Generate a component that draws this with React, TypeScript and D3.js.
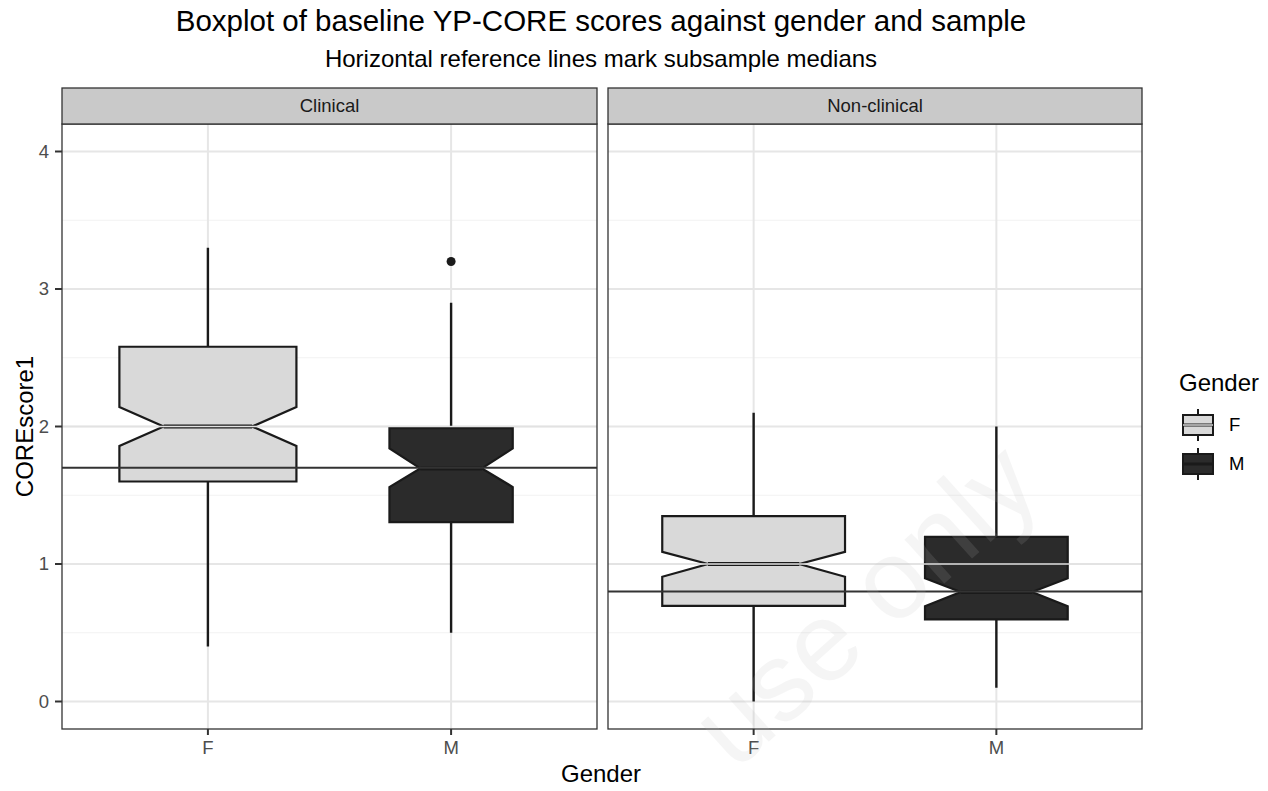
import React, { useEffect, useRef } from "react";
import * as d3 from "d3";

// facets and groups
const samples = ["Clinical", "Non-clinical"];
const genders = ["F", "M"];

// box statistics, one row per sample, columns F, M
const lowerWhisker = [[0.4, 0.5], [0.0, 0.1]];
const q1 = [[1.6, 1.305], [0.695, 0.598]];
const notchLow = [[1.858, 1.56], [0.907, 0.693]];
const medians = [[2.0, 1.695], [1.0, 0.797]];
const notchHigh = [[2.142, 1.84], [1.088, 0.897]];
const q3 = [[2.58, 1.988], [1.348, 1.197]];
const upperWhisker = [[3.3, 2.9], [2.1, 2.0]];
const outliers = [[[], [3.2]], [[], []]];
// relative box widths (varwidth)
const boxWidths = [[0.728, 0.507], [0.753, 0.588]];

// subsample medians (dark reference lines) and female medians (light lines)
const sampleMedians = [1.7, 0.8];
const lightLines = [2.0, 1.0];

const yTicks = [0, 1, 2, 3, 4];
const yMinor = [0.5, 1.5, 2.5, 3.5];

const fills: Record<string, string> = { F: "#d9d9d9", M: "#2b2b2b" };

export default function App() {
  const svgRef = useRef<SVGSVGElement>(null);

  useEffect(() => {
    const svg = d3.select(svgRef.current);
    svg.selectAll("*").remove();
    const W = 1268;
    const H = 791;
    svg.attr("width", W).attr("height", H);
    svg.append("rect").attr("width", W).attr("height", H).attr("fill", "#fff");

    const font = "'Liberation Sans', Arial, sans-serif";
    const panelTop = 124;
    const panelBottom = 729;
    const stripTop = 88;
    const panels = [
      { x0: 62, x1: 597 },
      { x0: 608, x1: 1142 },
    ];

    const y = d3.scaleLinear().domain([-0.2, 4.2]).range([panelBottom, panelTop]);

    panels.forEach((p, i) => {
      const x = d3
        .scalePoint<string>()
        .domain(genders)
        .range([p.x0, p.x1])
        .padding(0.6);
      const step = x.step();
      const g = svg.append("g");

      // grid
      g.selectAll(".minor")
        .data(yMinor)
        .enter()
        .append("line")
        .attr("x1", p.x0)
        .attr("x2", p.x1)
        .attr("y1", (d) => y(d))
        .attr("y2", (d) => y(d))
        .attr("stroke", "#f2f2f2")
        .attr("stroke-width", 1.2);
      g.selectAll(".major")
        .data(yTicks)
        .enter()
        .append("line")
        .attr("x1", p.x0)
        .attr("x2", p.x1)
        .attr("y1", (d) => y(d))
        .attr("y2", (d) => y(d))
        .attr("stroke", "#e6e6e6")
        .attr("stroke-width", 2);
      g.selectAll(".vmajor")
        .data(genders)
        .enter()
        .append("line")
        .attr("x1", (d) => x(d)!)
        .attr("x2", (d) => x(d)!)
        .attr("y1", panelTop)
        .attr("y2", panelBottom)
        .attr("stroke", "#e6e6e6")
        .attr("stroke-width", 2);

      // boxes
      genders.forEach((gd, j) => {
        const cx = x(gd)!;
        const hw = (boxWidths[i][j] * step) / 2;
        const nw = hw / 2;
        // whiskers
        g.append("line")
          .attr("x1", cx)
          .attr("x2", cx)
          .attr("y1", y(q3[i][j]))
          .attr("y2", y(upperWhisker[i][j]))
          .attr("stroke", "#1a1a1a")
          .attr("stroke-width", 2.4);
        g.append("line")
          .attr("x1", cx)
          .attr("x2", cx)
          .attr("y1", y(q1[i][j]))
          .attr("y2", y(lowerWhisker[i][j]))
          .attr("stroke", "#1a1a1a")
          .attr("stroke-width", 2.4);
        const pts: [number, number][] = [
          [cx - hw, y(q3[i][j])],
          [cx + hw, y(q3[i][j])],
          [cx + hw, y(notchHigh[i][j])],
          [cx + nw, y(medians[i][j])],
          [cx + hw, y(notchLow[i][j])],
          [cx + hw, y(q1[i][j])],
          [cx - hw, y(q1[i][j])],
          [cx - hw, y(notchLow[i][j])],
          [cx - nw, y(medians[i][j])],
          [cx - hw, y(notchHigh[i][j])],
        ];
        g.append("path")
          .attr("d", d3.line()(pts)! + "Z")
          .attr("fill", fills[gd])
          .attr("stroke", "#1a1a1a")
          .attr("stroke-width", 2.2)
          .attr("stroke-linejoin", "miter");
        g.append("line")
          .attr("x1", cx - nw)
          .attr("x2", cx + nw)
          .attr("y1", y(medians[i][j]))
          .attr("y2", y(medians[i][j]))
          .attr("stroke", "#1a1a1a")
          .attr("stroke-width", 4);
        g.selectAll(null)
          .data(outliers[i][j])
          .enter()
          .append("circle")
          .attr("cx", cx)
          .attr("cy", (d) => y(d))
          .attr("r", 4.5)
          .attr("fill", "#1a1a1a");
      });

      // light line at female median
      g.append("line")
        .attr("x1", p.x0)
        .attr("x2", p.x1)
        .attr("y1", y(lightLines[i]))
        .attr("y2", y(lightLines[i]))
        .attr("stroke", "#e2e2e2")
        .attr("stroke-width", 1.6);
      // subsample median
      g.append("line")
        .attr("x1", p.x0)
        .attr("x2", p.x1)
        .attr("y1", y(sampleMedians[i]))
        .attr("y2", y(sampleMedians[i]))
        .attr("stroke", "#333")
        .attr("stroke-width", 2);

      // panel border
      g.append("rect")
        .attr("x", p.x0)
        .attr("y", panelTop)
        .attr("width", p.x1 - p.x0)
        .attr("height", panelBottom - panelTop)
        .attr("fill", "none")
        .attr("stroke", "#333")
        .attr("stroke-width", 1.3);
      // strip
      g.append("rect")
        .attr("x", p.x0)
        .attr("y", stripTop)
        .attr("width", p.x1 - p.x0)
        .attr("height", panelTop - stripTop)
        .attr("fill", "#c9c9c9")
        .attr("stroke", "#333")
        .attr("stroke-width", 1.3);
      g.append("text")
        .attr("x", (p.x0 + p.x1) / 2)
        .attr("y", (stripTop + panelTop) / 2)
        .attr("dy", "0.35em")
        .attr("text-anchor", "middle")
        .attr("font-family", font)
        .attr("font-size", 18.5)
        .attr("fill", "#1a1a1a")
        .text(samples[i]);

      // x axis
      const xa = g.append("g").attr("transform", `translate(0,${panelBottom})`);
      genders.forEach((gd) => {
        xa.append("line")
          .attr("x1", x(gd)!)
          .attr("x2", x(gd)!)
          .attr("y1", 0)
          .attr("y2", 6)
          .attr("stroke", "#333")
          .attr("stroke-width", 2);
        xa.append("text")
          .attr("x", x(gd)!)
          .attr("y", 25)
          .attr("text-anchor", "middle")
          .attr("font-family", font)
          .attr("font-size", 18.5)
          .attr("fill", "#4d4d4d")
          .text(gd);
      });
    });

    // y axis
    const ya = svg.append("g");
    yTicks.forEach((t) => {
      ya.append("line")
        .attr("x1", 55)
        .attr("x2", 62)
        .attr("y1", y(t))
        .attr("y2", y(t))
        .attr("stroke", "#333")
        .attr("stroke-width", 2);
      ya.append("text")
        .attr("x", 49)
        .attr("y", y(t))
        .attr("dy", "0.35em")
        .attr("text-anchor", "end")
        .attr("font-family", font)
        .attr("font-size", 18.5)
        .attr("fill", "#4d4d4d")
        .text(t);
    });

    // titles
    svg.append("text")
      .attr("x", 601)
      .attr("y", 31)
      .attr("text-anchor", "middle")
      .attr("font-family", font)
      .attr("font-size", 29.5)
      .attr("fill", "#000")
      .text("Boxplot of baseline YP-CORE scores against gender and sample");
    svg.append("text")
      .attr("x", 601)
      .attr("y", 67)
      .attr("text-anchor", "middle")
      .attr("font-family", font)
      .attr("font-size", 24)
      .attr("fill", "#000")
      .text("Horizontal reference lines mark subsample medians");
    svg.append("text")
      .attr("x", 601)
      .attr("y", 782)
      .attr("text-anchor", "middle")
      .attr("font-family", font)
      .attr("font-size", 24)
      .attr("fill", "#000")
      .text("Gender");
    svg.append("text")
      .attr("transform", `translate(33,${(panelTop + panelBottom) / 2}) rotate(-90)`)
      .attr("text-anchor", "middle")
      .attr("font-family", font)
      .attr("font-size", 24)
      .attr("fill", "#000")
      .text("COREscore1");

    // legend
    const lg = svg.append("g");
    lg.append("text")
      .attr("x", 1179)
      .attr("y", 391)
      .attr("font-family", font)
      .attr("font-size", 24)
      .attr("fill", "#000")
      .text("Gender");
    genders.forEach((gd, k) => {
      const cy = 425 + k * 39;
      lg.append("line")
        .attr("x1", 1198)
        .attr("x2", 1198)
        .attr("y1", cy - 16)
        .attr("y2", cy + 16)
        .attr("stroke", "#1a1a1a")
        .attr("stroke-width", 2);
      lg.append("rect")
        .attr("x", 1183)
        .attr("y", cy - 10)
        .attr("width", 30)
        .attr("height", 20)
        .attr("fill", fills[gd])
        .attr("stroke", "#1a1a1a")
        .attr("stroke-width", 2);
      lg.append("line")
        .attr("x1", 1183)
        .attr("x2", 1213)
        .attr("y1", cy)
        .attr("y2", cy)
        .attr("stroke", "#1a1a1a")
        .attr("stroke-width", 3);
      if (gd === "F") {
        lg.append("line")
          .attr("x1", 1183)
          .attr("x2", 1213)
          .attr("y1", cy)
          .attr("y2", cy)
          .attr("stroke", "#e2e2e2")
          .attr("stroke-width", 1.4);
      }
      lg.append("text")
        .attr("x", 1229)
        .attr("y", cy)
        .attr("dy", "0.35em")
        .attr("font-family", font)
        .attr("font-size", 18.5)
        .attr("fill", "#000")
        .text(gd);
    });

    // faint watermark
    svg.append("text")
      .attr("transform", "translate(735,772) rotate(-42)")
      .attr("font-family", font)
      .attr("font-size", 112)
      .attr("fill", "#bbbbbb")
      .attr("opacity", 0.14)
      .text("use only");
  }, []);

  return (
    <div style={{ position: "absolute", left: 0, top: 0 }}>
      <svg ref={svgRef} style={{ display: "block" }} />
    </div>
  );
}
